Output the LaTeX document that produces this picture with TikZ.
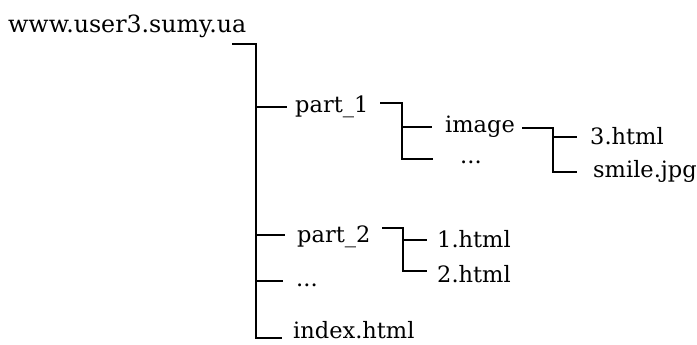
\documentclass[tikz,border=0pt]{standalone}
\usepackage{fontspec}
\setmainfont{DejaVu Serif}
\begin{document}
\begin{tikzpicture}[x=1pt,y=-1pt,
  lbl/.style={anchor=base west,inner sep=0pt,font=\fontsize{22.5}{26}\selectfont},
  rootlbl/.style={lbl,font=\fontsize{23.7}{27}\selectfont},
  conn/.style={line width=1.5pt,black}]
\useasboundingbox (0,0) rectangle (697,345);
% labels
\node[rootlbl] (root) at (8,33) {www.user3.sumy.ua};
\node[lbl] (p1) at (295,113) {part\_1};
\node[lbl] (img) at (445,132) {image};
\node[lbl] (dots1) at (460,164) {...};
\node[lbl] (h3) at (590,145) {3.html};
\node[lbl] (smile) at (593,177) {smile.jpg};
\node[lbl] (p2) at (297,242) {part\_2};
\node[lbl] (h1) at (437,247) {1.html};
\node[lbl] (h2) at (437,282) {2.html};
\node[lbl] (dots0) at (296,286) {...};
\node[lbl] (idx) at (293,338) {index.html};
% connector points
\coordinate (r0) at (232,44);
\coordinate (rb) at (256,338);
\coordinate (re) at (282,338);
\coordinate (b1) at (256,107); \coordinate (e1) at (287,107);
\coordinate (b2) at (256,235); \coordinate (e2) at (285,235);
\coordinate (b3) at (256,281); \coordinate (e3) at (283,281);
\coordinate (s1a) at (380,103); \coordinate (s1c) at (402,159); \coordinate (s1d) at (433,159);
\coordinate (s1b) at (402,127); \coordinate (s1e) at (432,127);
\coordinate (s2a) at (522,128); \coordinate (s2c) at (553,172); \coordinate (s2d) at (577,172);
\coordinate (s2b) at (553,137); \coordinate (s2e) at (577,137);
\coordinate (s3a) at (382,228); \coordinate (s3c) at (403,271); \coordinate (s3d) at (427,271);
\coordinate (s3b) at (403,240); \coordinate (s3e) at (427,240);
% connectors
\draw[conn] (r0) -| (rb) -- (re);
\draw[conn] (b1) -- (e1);
\draw[conn] (b2) -- (e2);
\draw[conn] (b3) -- (e3);
\draw[conn] (s1a) -| (s1c) -- (s1d);
\draw[conn] (s1b) -- (s1e);
\draw[conn] (s2a) -| (s2c) -- (s2d);
\draw[conn] (s2b) -- (s2e);
\draw[conn] (s3a) -| (s3c) -- (s3d);
\draw[conn] (s3b) -- (s3e);
\end{tikzpicture}
\end{document}
